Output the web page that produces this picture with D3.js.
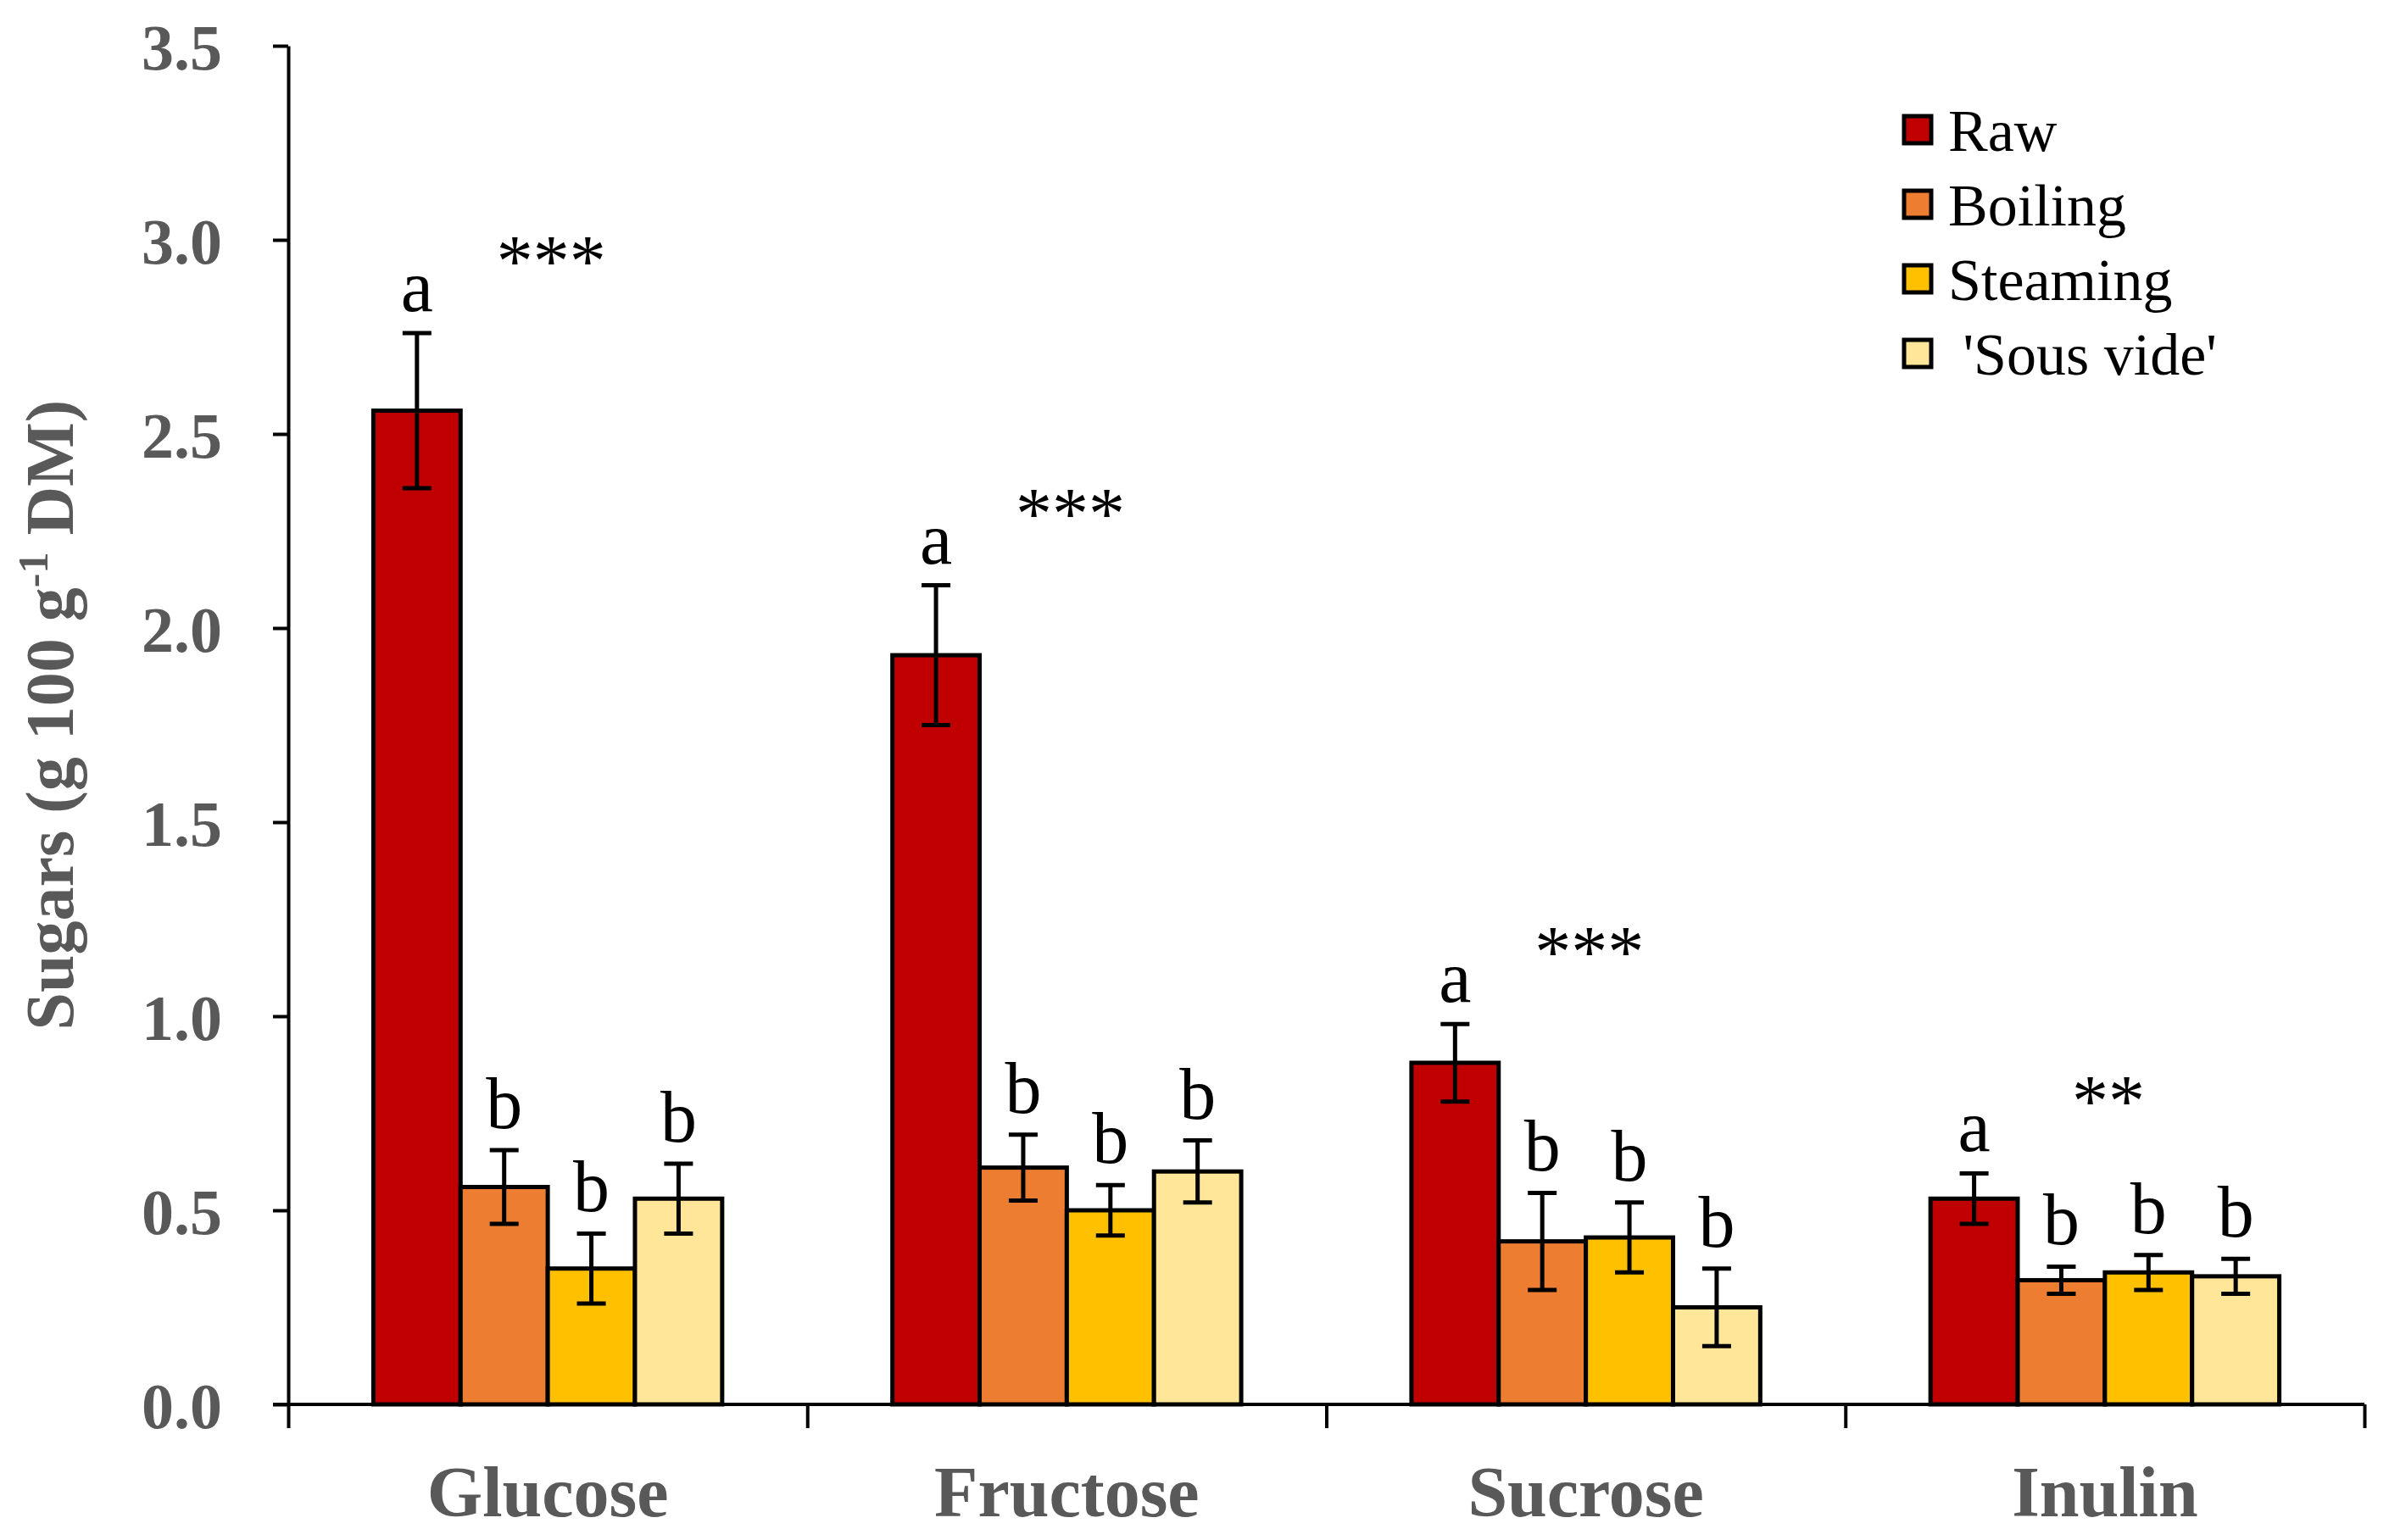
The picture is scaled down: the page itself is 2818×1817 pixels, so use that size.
<!DOCTYPE html>
<html>
<head>
<meta charset="utf-8">
<script src="https://cdn.jsdelivr.net/npm/d3@7/dist/d3.min.js"></script>
<style>
  body { margin: 0; background: #fff; }
</style>
</head>
<body>
<svg id="chart" width="2818" height="1817" font-family="Liberation Serif, serif"></svg>
<script>
// data
var sugars = ['Glucose', 'Fructose', 'Sucrose', 'Inulin']
var treatments = ['Raw', 'Boiling', 'Steaming', " 'Sous vide'"]
var colours = ['#C00000', '#ED7D31', '#FFC000', '#FFE699']

var rawMean = [2.56, 1.93, 0.88, 0.53]
var boilingMean = [0.56, 0.61, 0.42, 0.32]
var steamingMean = [0.35, 0.50, 0.43, 0.34]
var sousVideMean = [0.53, 0.60, 0.25, 0.33]

var rawErr = [0.20, 0.18, 0.10, 0.065]
var boilingErr = [0.095, 0.085, 0.125, 0.035]
var steamingErr = [0.09, 0.065, 0.09, 0.045]
var sousVideErr = [0.09, 0.08, 0.10, 0.045]

var rawLetters = ['a', 'a', 'a', 'a']
var boilingLetters = ['b', 'b', 'b', 'b']
var steamingLetters = ['b', 'b', 'b', 'b']
var sousVideLetters = ['b', 'b', 'b', 'b']

var stars = ['***', '***', '***', '**']
var yTicks = [0, 0.5, 1.0, 1.5, 2.0, 2.5, 3.0, 3.5]

var means = [rawMean, boilingMean, steamingMean, sousVideMean]
var errs = [rawErr, boilingErr, steamingErr, sousVideErr]
var letters = [rawLetters, boilingLetters, steamingLetters, sousVideLetters]

var serif = "'Liberation Serif', 'Times New Roman', serif"
var svg = d3.select('#chart')
var margin = { top: 54, right: 29, bottom: 160, left: 340 }
var width = 2818 - margin.left - margin.right
var height = 1817 - margin.top - margin.bottom
var grey = '#595959'

var g = svg.append('g')
    .attr('transform', 'translate(' + margin.left + ',' + margin.top + ')')

var x = d3.scaleBand().domain(sugars).range([0, width])
var bw = x.bandwidth()
var xi = d3.scaleBand().domain(treatments).range([bw * 0.164, bw * 0.836])
var edges = d3.scaleLinear().domain([0, sugars.length]).range([0, width])
var y = d3.scaleLinear().domain([0, 3.5]).range([height, 0])

// flatten for drawing
var rows = []
sugars.forEach(function(s, i) {
    treatments.forEach(function(t, j) {
        rows.push({ sugar: s, treat: t, j: j, v: means[j][i], e: errs[j][i], l: letters[j][i] })
    })
})

// bars
g.selectAll('rect.bar')
    .data(rows)
    .enter()
    .append('rect')
    .attr('class', 'bar')
    .attr('x', d => x(d.sugar) + xi(d.treat))
    .attr('y', d => y(d.v))
    .attr('width', xi.bandwidth())
    .attr('height', d => height - y(d.v))
    .attr('fill', d => colours[d.j])
    .attr('stroke', '#000')
    .attr('stroke-width', 5)

// error bars
var cx = d => x(d.sugar) + xi(d.treat) + xi.bandwidth() / 2
var eb = g.selectAll('g.err').data(rows).enter().append('g').attr('class', 'err')
    .attr('stroke', '#000').attr('stroke-width', 5)
eb.append('line')
    .attr('x1', cx).attr('x2', cx)
    .attr('y1', d => y(d.v + d.e)).attr('y2', d => y(d.v - d.e))
eb.append('line')
    .attr('x1', d => cx(d) - 17).attr('x2', d => cx(d) + 17)
    .attr('y1', d => y(d.v + d.e)).attr('y2', d => y(d.v + d.e))
eb.append('line')
    .attr('x1', d => cx(d) - 17).attr('x2', d => cx(d) + 17)
    .attr('y1', d => y(d.v - d.e)).attr('y2', d => y(d.v - d.e))

// significance letters
g.selectAll('text.letter')
    .data(rows)
    .enter()
    .append('text')
    .attr('class', 'letter')
    .attr('x', cx)
    .attr('y', d => y(d.v + d.e) - 26)
    .attr('text-anchor', 'middle')
    .attr('font-family', serif)
    .attr('font-size', 86)
    .attr('fill', '#000')
    .text(d => d.l)

// stars over each group
g.selectAll('text.stars')
    .data(sugars)
    .enter()
    .append('text')
    .attr('class', 'stars')
    .attr('x', d => x(d) + bw / 2 + 4)
    .attr('y', (d, i) => y(rawMean[i] + rawErr[i]) - 56)
    .attr('text-anchor', 'middle')
    .attr('font-family', serif)
    .attr('font-size', 86)
    .attr('fill', '#000')
    .text((d, i) => stars[i])

// y axis
var yAxis = d3.axisLeft(y).tickValues(yTicks).tickFormat(d3.format('.1f'))
    .tickSize(18).tickSizeOuter(0).tickPadding(60)
var ya = g.append('g').call(yAxis)
ya.select('.domain').attr('stroke-width', 4)
ya.selectAll('.tick line').attr('stroke-width', 4)
ya.selectAll('.tick text')
    .attr('font-size', 76).attr('font-weight', 'bold').attr('fill', grey)
    .attr('font-family', serif)
    .attr('dy', '0.36em')

// x axis: ticks at category edges
var xAxis = d3.axisBottom(edges).tickValues(d3.range(sugars.length + 1))
    .tickFormat('').tickSize(28).tickSizeOuter(0)
var xa = g.append('g').attr('transform', 'translate(0,' + height + ')').call(xAxis)
xa.select('.domain').attr('stroke-width', 4).attr('d', 'M-18,0H' + width)
xa.selectAll('.tick line').attr('stroke-width', 4)

// category labels
var xl = g.append('g').attr('transform', 'translate(0,' + height + ')')
    .call(d3.axisBottom(x).tickSize(0).tickPadding(72))
xl.select('.domain').remove()
xl.selectAll('.tick text')
    .attr('font-size', 84).attr('font-weight', 'bold').attr('fill', grey)
    .attr('font-family', serif)

// y axis title
var title = svg.append('text')
    .attr('transform', 'translate(86,' + (margin.top + height / 2 - 12) + ') rotate(-90)')
    .attr('text-anchor', 'middle')
    .attr('font-family', serif)
    .attr('font-size', 80)
    .attr('font-weight', 'bold')
    .attr('fill', grey)
title.append('tspan').text('Sugars (g 100 g')
title.append('tspan').attr('font-size', 50).attr('dy', -30).text('-1')
title.append('tspan').attr('dy', 30).text(' DM)')

// legend
var legend = svg.append('g').attr('transform', 'translate(2246,137)')
var li = legend.selectAll('g').data(treatments).enter().append('g')
    .attr('transform', (d, i) => 'translate(0,' + i * 88 + ')')
li.append('rect')
    .attr('width', 32).attr('height', 32)
    .attr('fill', (d, i) => colours[i])
    .attr('stroke', '#000').attr('stroke-width', 5)
li.append('text')
    .attr('x', 52).attr('y', 16).attr('dy', '0.35em')
    .attr('font-family', serif)
    .attr('font-size', 70).attr('fill', '#000')
    .attr('xml:space', 'preserve')
    .style('white-space', 'pre')
    .text(d => d)
</script>
</body>
</html>
